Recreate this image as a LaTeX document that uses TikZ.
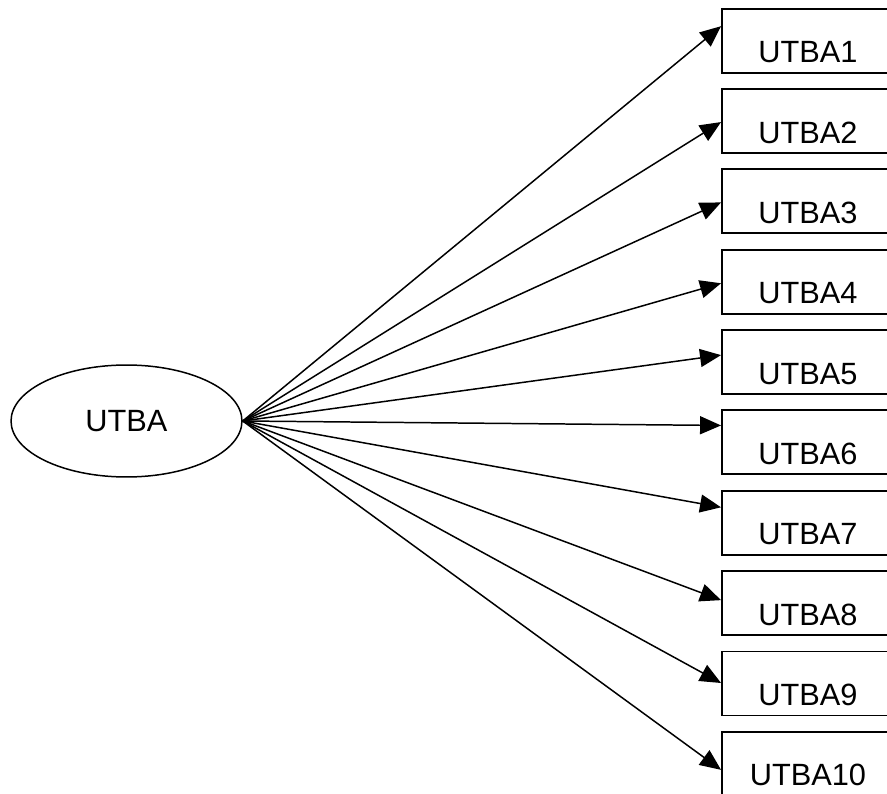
\documentclass[tikz,border=0pt]{standalone}
\usepackage{fontspec}
\setmainfont{Liberation Sans}
\usetikzlibrary{arrows.meta,shapes.geometric,calc}

\begin{document}
\begin{tikzpicture}[x=0.02cm,y=-0.02cm,
    itembox/.style={draw, line width=1.1pt, minimum width=3.44cm, minimum height=1.28cm,
        inner ysep=0pt, text height=1.08cm, text depth=0.20cm, font=\fontsize{17.5}{21}\selectfont},
    factor/.style={draw, ellipse, line width=0.85pt, minimum width=4.62cm, minimum height=2.24cm,
        font=\fontsize{17.5}{21}\selectfont},
    link/.style={line width=0.85pt, -{Triangle[length=0.42cm,width=0.36cm]}}]
    % Page frame
    \useasboundingbox (0,0) rectangle (887,794);
    \clip (0,0) rectangle (887,794);

    % Latent variable
    \node[factor] (utba) at (126.5,421) {UTBA};

    % Indicators
    \foreach \i in {1,...,10}
        \node[itembox] (b\i) at (808,40.7+80.35*\i-80.35) {UTBA\i};

    % Draw loadings
    \foreach \i/\d in {1/-14.5,2/1,3/1,4/1.5,5/-7,6/-17,7/-15.5,8/-3,9/-0.5,10/6}
        \draw[link] (utba.east) -- ($(b\i.west)+(0,\d)$);
\end{tikzpicture}
\end{document}
